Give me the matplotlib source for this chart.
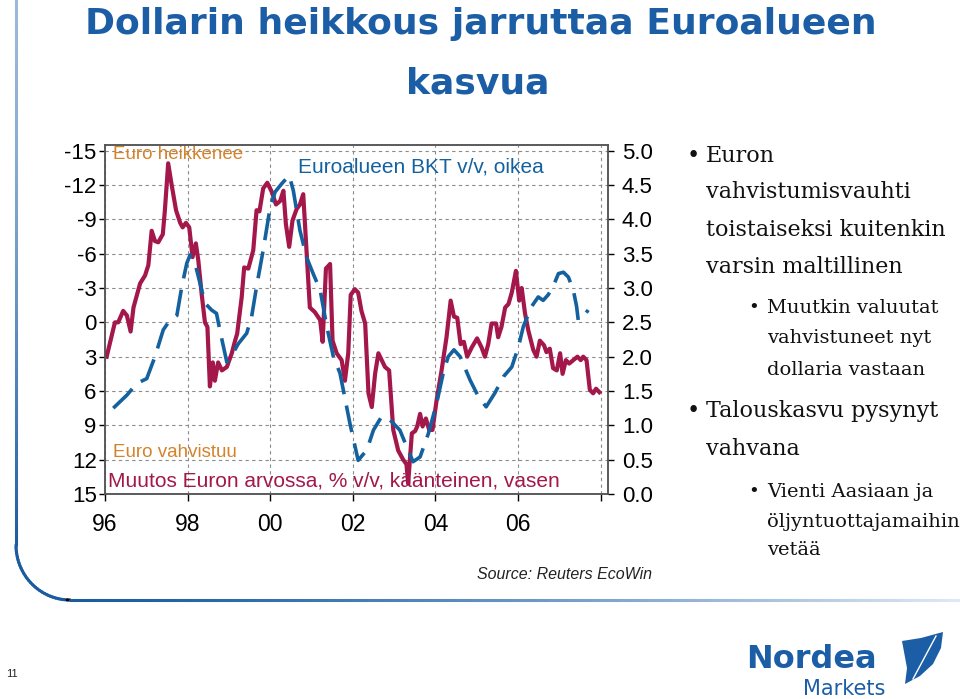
import matplotlib
matplotlib.use('Agg')
import matplotlib.pyplot as plt
import numpy as np
from matplotlib.collections import LineCollection
from matplotlib.patches import Polygon

plt.rcParams['font.family'] = ['Liberation Sans', 'DejaVu Sans']

# ---------------------------------------------------------------------------
# data
# euro change y/y, % (inverted, left axis)
euro_years = [1996.04, 1996.24, 1996.32, 1996.44, 1996.53, 1996.62, 1996.69, 1996.85, 1996.97, 1997.05,
              1997.13, 1997.21, 1997.29, 1997.40, 1997.45, 1997.53, 1997.61, 1997.72, 1997.82, 1997.88,
              1997.96, 1998.04, 1998.12, 1998.20, 1998.26, 1998.34, 1998.42, 1998.48, 1998.54, 1998.61,
              1998.66, 1998.74, 1998.83, 1998.95, 1999.07, 1999.15, 1999.20, 1999.31, 1999.37, 1999.47,
              1999.59, 1999.67, 1999.74, 1999.83, 1999.93, 2000.04, 2000.14, 2000.24, 2000.32, 2000.38,
              2000.46, 2000.54, 2000.64, 2000.72, 2000.80, 2000.88, 2000.96, 2001.08, 2001.21, 2001.27,
              2001.35, 2001.45, 2001.51, 2001.61, 2001.73, 2001.81, 2001.89, 2001.95, 2002.05, 2002.13,
              2002.21, 2002.30, 2002.38, 2002.46, 2002.54, 2002.62, 2002.70, 2002.78, 2002.88, 2002.98,
              2003.10, 2003.22, 2003.30, 2003.34, 2003.43, 2003.51, 2003.56, 2003.63, 2003.69, 2003.77,
              2003.85, 2003.93, 2004.03, 2004.15, 2004.27, 2004.37, 2004.45, 2004.53, 2004.61, 2004.69,
              2004.77, 2004.88, 2005.01, 2005.12, 2005.20, 2005.28, 2005.36, 2005.47, 2005.52, 2005.60,
              2005.69, 2005.77, 2005.85, 2005.95, 2006.03, 2006.09, 2006.17, 2006.25, 2006.37, 2006.45,
              2006.53, 2006.63, 2006.69, 2006.77, 2006.85, 2006.94, 2007.02, 2007.08, 2007.16, 2007.24,
              2007.34, 2007.44, 2007.52, 2007.58, 2007.66, 2007.74, 2007.82, 2007.89, 2007.97]
euro_change = [3.0, 0.0, 0.0, -1.0, -0.6, 0.8, -1.3, -3.4, -4.1, -5.0,
               -8.0, -7.1, -7.0, -7.7, -9.8, -13.9, -12.1, -9.8, -8.7, -8.3,
               -8.7, -8.3, -5.7, -6.9, -5.4, -2.5, 0.0, 0.4, 5.6, 3.5,
               5.1, 3.5, 4.2, 3.9, 2.7, 1.6, 1.0, -2.2, -4.8, -4.7,
               -6.3, -9.8, -9.7, -11.7, -12.2, -11.4, -10.3, -10.6, -11.5, -8.6,
               -6.6, -8.9, -9.9, -10.3, -11.2, -6.3, -1.3, -0.9, -0.2, 1.7,
               -4.7, -5.1, 1.6, 2.7, 3.3, 5.1, 2.7, -2.4, -2.9, -2.6,
               -1.0, 0.1, 6.2, 7.4, 4.5, 2.7, 3.3, 3.9, 4.2, 9.4,
               11.2, 12.0, 12.4, 14.1, 9.7, 9.5, 9.1, 8.0, 9.1, 8.4,
               9.4, 9.4, 6.8, 4.2, 1.3, -1.9, -0.5, -0.4, 1.9, 1.7,
               3.0, 2.2, 1.4, 2.2, 3.0, 1.9, 0.1, 0.1, 1.3, 0.4,
               -1.3, -1.6, -2.6, -4.5, -1.9, -3.0, -0.8, 0.7, 2.4, 3.0,
               1.6, 2.0, 2.6, 2.3, 4.0, 4.2, 2.7, 4.5, 3.3, 3.6,
               3.3, 3.0, 3.3, 3.0, 3.3, 5.9, 6.2, 5.8, 6.1]

# euro area GDP y/y, % (right axis)
gdp_years = [1996.20, 1996.53, 1996.77, 1997.01, 1997.21, 1997.41, 1997.57, 1997.74, 1997.86, 1997.98,
             1998.06, 1998.18, 1998.30, 1998.42, 1998.58, 1998.70, 1998.78, 1998.95, 1999.07, 1999.23,
             1999.43, 1999.55, 1999.67, 1999.83, 2000.00, 2000.12, 2000.28, 2000.46, 2000.56, 2000.72,
             2000.88, 2001.04, 2001.21, 2001.37, 2001.53, 2001.69, 2001.93, 2002.13, 2002.34, 2002.50,
             2002.70, 2002.90, 2003.14, 2003.34, 2003.46, 2003.63, 2003.83, 2004.03, 2004.19, 2004.31,
             2004.45, 2004.60, 2004.84, 2005.04, 2005.23, 2005.44, 2005.65, 2005.85, 2006.01, 2006.13,
             2006.33, 2006.49, 2006.61, 2006.73, 2006.85, 2006.98, 2007.10, 2007.22, 2007.34, 2007.42,
             2007.46, 2007.58, 2007.70]
gdp_growth = [1.25, 1.44, 1.61, 1.68, 2.0, 2.39, 2.53, 2.6, 3.02, 3.36,
              3.48, 3.36, 3.07, 2.78, 2.68, 2.63, 2.39, 1.92, 2.02, 2.19,
              2.34, 2.58, 3.02, 3.55, 4.18, 4.40, 4.52, 4.64, 4.42, 3.84,
              3.45, 3.21, 2.97, 2.44, 2.0, 1.76, 1.03, 0.49, 0.64, 0.93,
              1.13, 1.08, 0.93, 0.64, 0.47, 0.54, 0.88, 1.32, 1.76, 2.0,
              2.1, 2.0, 1.66, 1.42, 1.27, 1.47, 1.71, 1.85, 2.14, 2.44,
              2.73, 2.87, 2.82, 2.9, 3.02, 3.21, 3.23, 3.16, 2.97, 2.73,
              2.53, 2.58, 2.68]

year_ticks = [1996, 1998, 2000, 2002, 2004, 2006, 2008]
year_labels = ['96', '98', '00', '02', '04', '06', '']
left_ticks = [-15, -12, -9, -6, -3, 0, 3, 6, 9, 12, 15]
right_ticks = [0.0, 0.5, 1.0, 1.5, 2.0, 2.5, 3.0, 3.5, 4.0, 4.5, 5.0]

title_lines = ['Dollarin heikkous jarruttaa Euroalueen', 'kasvua']
bullets = [
    (0, ['Euron', 'vahvistumisvauhti', 'toistaiseksi kuitenkin', 'varsin maltillinen']),
    (1, ['Muutkin valuutat', 'vahvistuneet nyt', 'dollaria vastaan']),
    (0, ['Talouskasvu pysynyt', 'vahvana']),
    (1, ['Vienti Aasiaan ja', 'öljyntuottajamaihin', 'vetää']),
]

RED = '#A3174B'
BLUE = '#14619F'
ORANGE = '#D4832B'
TITLE_BLUE = '#1B5EA6'
GRID = '#8c8c8c'

W, H = 960, 699


def fx(x):
    return x / W


def fy(y):
    return 1 - y / H


fig = plt.figure(figsize=(W / 100, H / 100), dpi=100)

#----------------------------------------------------------------------------------
# slide frame line (rounded corner bottom left, fading)
pts = []
for y in np.linspace(0, 545, 60):
    pts.append((16, y))
for t in np.linspace(0, np.pi / 2, 30):
    pts.append((70 - 54 * np.cos(t), 545 + 55 * np.sin(t)))
for x in np.linspace(70, 960, 90):
    pts.append((x, 600))
pts = np.array(pts)
segs = [[(fx(pts[i, 0]), fy(pts[i, 1])), (fx(pts[i + 1, 0]), fy(pts[i + 1, 1]))] for i in range(len(pts) - 1)]
light = np.array([0.88, 0.92, 0.97])
dark = np.array([0.10, 0.36, 0.62])
cols = []
for i in range(len(pts) - 1):
    x, y = pts[i]
    if x <= 16.5 and y < 545:
        f = (y / 545) ** 1.5
        c = light + (dark - light) * (0.35 + 0.65 * f)
    elif y < 599.9:
        c = dark
    else:
        f = (x - 70) / 890
        c = dark + (light - dark) * f ** 1.3
    cols.append(c)
fig.add_artist(LineCollection(segs, colors=cols, linewidths=2.2, capstyle='round',
                              transform=fig.transFigure))

#----------------------------------------------------------------------------------
# title
fig.text(fx(481), fy(34), title_lines[0], ha='center', va='baseline', fontsize=26,
         weight='bold', color=TITLE_BLUE, family='DejaVu Sans')
fig.text(fx(478), fy(93), title_lines[1], ha='center', va='baseline', fontsize=26,
         weight='bold', color=TITLE_BLUE, family='DejaVu Sans')

#----------------------------------------------------------------------------------
# chart
ax = fig.add_axes([fx(105), fy(494), (608 - 105) / W, (494 - 145) / H])
ax.plot(euro_years, euro_change, color=RED, lw=3.0, solid_joinstyle='round')
ax.set_xlim(1996, 2008.18)
ax.set_ylim(15, -15.5)
ax.set_yticks(left_ticks)
ax.set_yticklabels([str(v) for v in left_ticks])
ax.set_xticks(year_ticks)
ax.set_xticklabels(year_labels)
ax.grid(True, color=GRID, ls=(0, (3, 3)), lw=0.8)
ax.set_axisbelow(True)
ax.tick_params(axis='y', direction='out', length=4, width=1, pad=2, labelsize=16)
ax.tick_params(axis='x', direction='out', length=5, width=1, pad=9, labelsize=16.5)

ax2 = ax.twinx()
ax2.plot(gdp_years, gdp_growth, color=BLUE, lw=2.6, dashes=(7.5, 3.2), dash_capstyle='butt')
ax2.set_ylim(0, 5.083)
ax2.set_yticks(right_ticks)
ax2.set_yticklabels(['%.1f' % v for v in right_ticks])
ax2.tick_params(axis='y', direction='out', length=4, width=1, pad=6, labelsize=16)

for a in (ax, ax2):
    for s in a.spines.values():
        s.set_color('#555555')
        s.set_linewidth(1.1)

fig.text(fx(113), fy(159), 'Euro heikkenee', color=ORANGE, fontsize=13.5, va='baseline')
fig.text(fx(298), fy(172.5), 'Euroalueen BKT v/v, oikea', color=BLUE, fontsize=15, va='baseline')
fig.text(fx(113), fy(457), 'Euro vahvistuu', color=ORANGE, fontsize=13.5, va='baseline')
fig.text(fx(108), fy(486.5), 'Muutos Euron arvossa, % v/v, käänteinen, vasen', color=RED,
         fontsize=15, va='baseline')
fig.text(fx(652), fy(579), 'Source: Reuters EcoWin', ha='right', va='baseline', fontsize=11.5,
         style='italic', color='#222222')

#----------------------------------------------------------------------------------
# bullet text on the right
main_y = [161.7, 198.3, 236, 272.7]
sub_y = [312.7, 343.3, 375]
main2_y = [416.7, 455]
sub2_y = [496.7, 526.7, 555]
for (level, lines), ys in zip(bullets, [main_y, sub_y, main2_y, sub2_y]):
    if level == 0:
        bx, tx, fs, bfs = 693, 706, 16, 16
    else:
        bx, tx, fs, bfs = 754, 767, 14, 13
    fig.text(fx(bx), fy(ys[0]), '•', ha='center', va='baseline', fontsize=bfs,
             family='DejaVu Serif', color='#111111')
    for line, y in zip(lines, ys):
        fig.text(fx(tx), fy(y), line, va='baseline', fontsize=fs, family='DejaVu Serif',
                 color='#111111')

#----------------------------------------------------------------------------------
# footer: page number and logo
fig.text(fx(6), fy(677), '11', fontsize=8, va='baseline', color='#222222')
fig.text(fx(746), fy(668), 'Nordea', fontsize=23, weight='bold', family='DejaVu Sans',
         color=TITLE_BLUE, va='baseline')
fig.text(fx(803), fy(695), 'Markets', fontsize=15, family='DejaVu Sans',
         color=TITLE_BLUE, va='baseline')
sail = [(902, 641), (921, 638), (943, 632), (941, 648), (933, 664), (920, 676), (905, 684),
        (907, 668)]
fig.add_artist(Polygon([(fx(x), fy(y)) for x, y in sail], closed=True, facecolor=TITLE_BLUE,
                       edgecolor='none', transform=fig.transFigure))
fig.add_artist(plt.Line2D([fx(936), fx(913)], [fy(636), fy(679)], color='white', lw=1.0,
                          transform=fig.transFigure))

fig.savefig('out.png', dpi=100)
